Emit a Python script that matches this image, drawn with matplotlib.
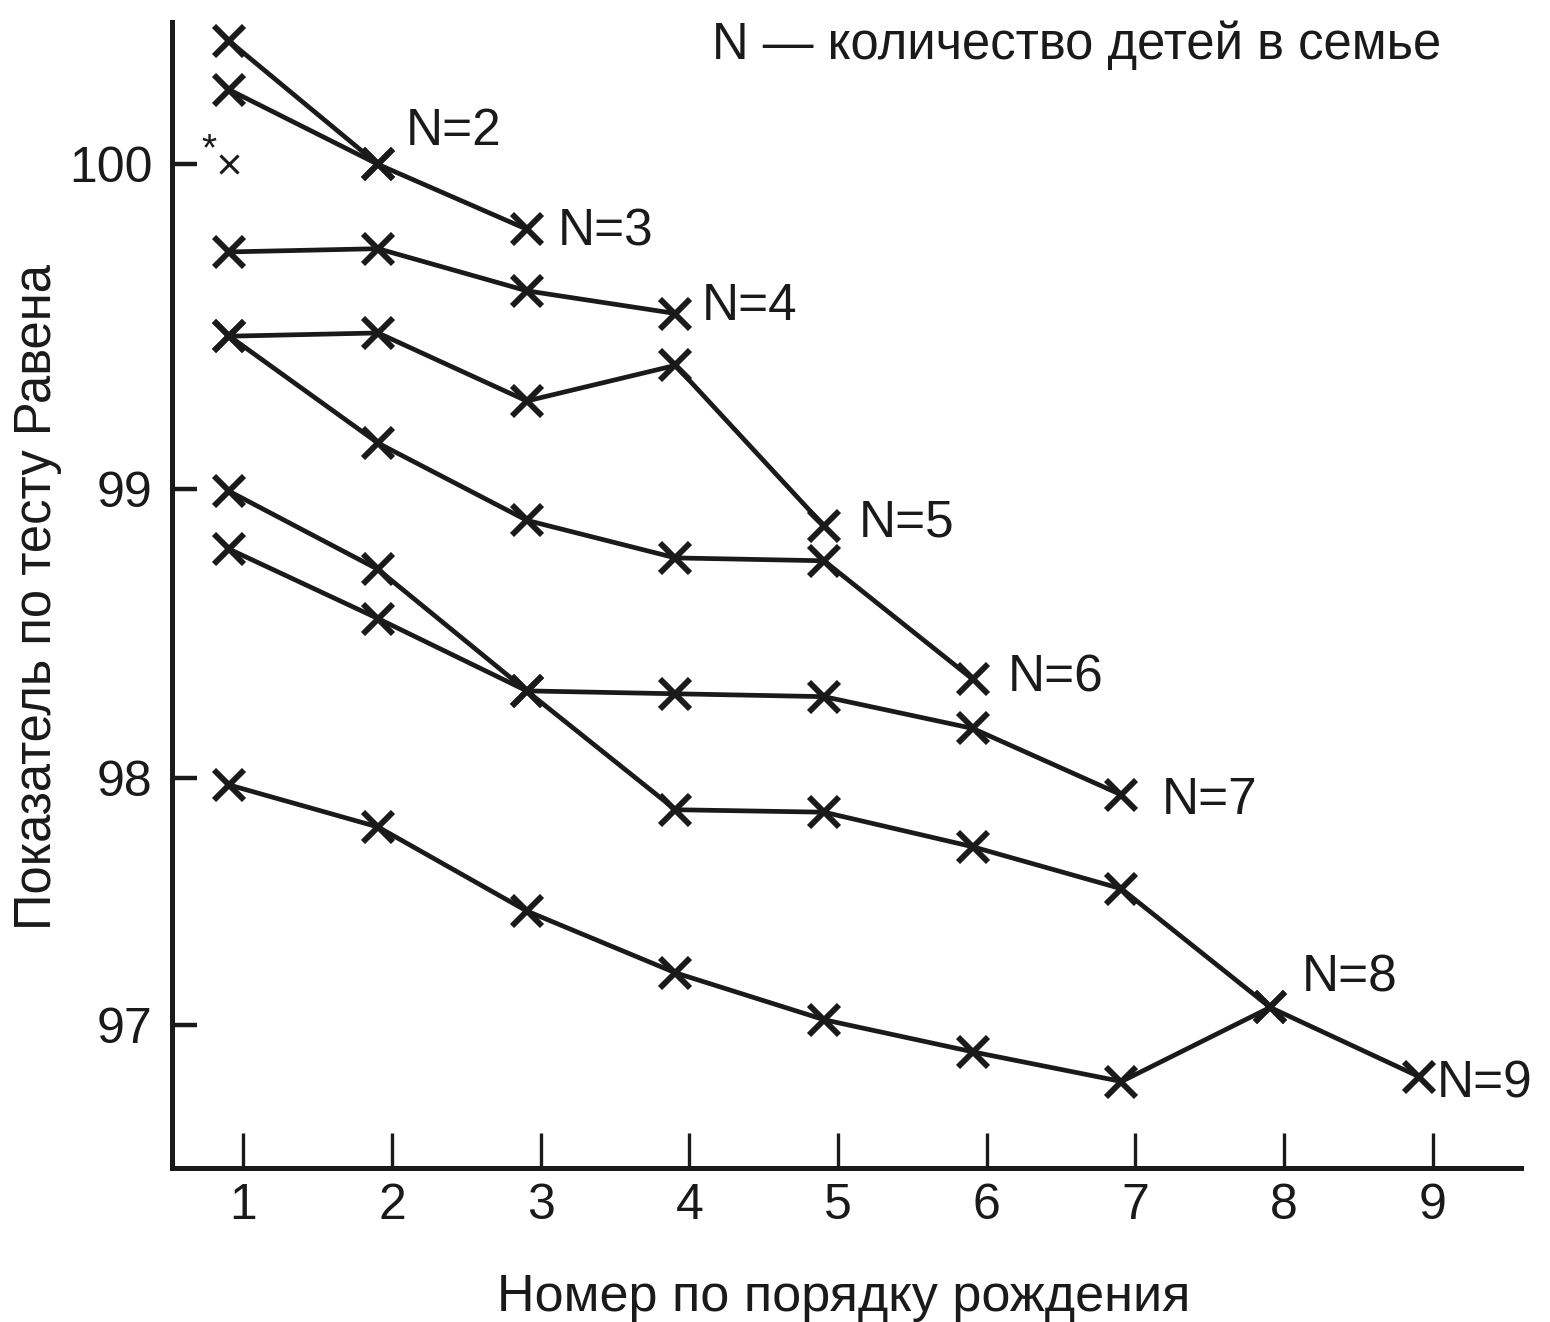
import numpy as np
import matplotlib
matplotlib.use("Agg")
import matplotlib.pyplot as plt
from matplotlib.transforms import offset_copy

plt.rcParams['font.family'] = ['Liberation Sans', 'DejaVu Sans']

# Raven test score by birth order, one series per family size N
birth_order = [1, 2, 3, 4, 5, 6, 7, 8, 9]
family_sizes = [2, 3, 4, 5, 6, 7, 8, 9]
score_n2 = [100.38, 100.00]
score_n3 = [100.23, 100.00, 99.80]
score_n4 = [99.73, 99.74, 99.61, 99.54]
score_n5 = [99.47, 99.48, 99.27, 99.38, 98.87]
score_n6 = [99.47, 99.14, 98.89, 98.76, 98.75, 98.34]
score_n7 = [98.99, 98.72, 98.30, 98.29, 98.28, 98.17, 97.93]
score_n8 = [98.79, 98.55, 98.30, 97.87, 97.86, 97.72, 97.55, 97.07]
score_n9 = [97.97, 97.80, 97.46, 97.21, 97.02, 96.89, 96.77, 97.07, 96.79]
scores = [score_n2, score_n3, score_n4, score_n5, score_n6, score_n7, score_n8, score_n9]
mean_point = (1, 100.0)

y_ticks = [97, 98, 99, 100]
x_ticks = birth_order

# the printed y scale is uneven: gaps between the ticks 97-98-99-100
tick_gap = [0, 247, 536, 860]


def fwd(v):
    v = np.asarray(v, float)
    out = np.interp(v, y_ticks, tick_gap)
    out = np.where(v < 97, (v - 97) * 247, out)
    out = np.where(v > 100, 860 + (v - 100) * 324, out)
    return out


def inv(p):
    p = np.asarray(p, float)
    out = np.interp(p, tick_gap, y_ticks)
    out = np.where(p < 0, 97 + p / 247, out)
    out = np.where(p > 860, 100 + (p - 860) / 324, out)
    return out


ink = '#1a1a1a'
fig = plt.figure(figsize=(15.5, 13.22), dpi=100)
ax = fig.add_axes([0.111, 0.1165, 0.870, 0.867])
ax.set_yscale('function', functions=(fwd, inv))
ax.set_xlim(0.52, 9.59)
ax.set_ylim(96.42, 100.44)

# points sit slightly left of the tick marks in the original
shifted = offset_copy(ax.transData, fig=fig, x=-14, y=0, units='dots')

label_offsets = {2: (20, 24), 3: (22, -2), 4: (19, 5), 5: (25, 2),
                 6: (25, 1), 7: (29, -4), 8: (23, 21), 9: (13, -5)}

for n, ys in zip(family_sizes, scores):
    xs = birth_order[:len(ys)]
    ax.plot(xs, ys, color=ink, lw=3.4, marker='x', ms=21, mew=4.2,
            transform=shifted, solid_joinstyle='round')
    ax.annotate(f'N={n}', xy=(xs[-1], ys[-1]), xycoords=shifted,
                xytext=label_offsets[n], textcoords='offset points',
                ha='left', va='center', fontsize=37, color=ink)

ax.plot([mean_point[0]], [mean_point[1]], color=ink, marker='x', ms=13,
        mew=2.2, linestyle='none', transform=shifted)
ax.annotate('*', xy=mean_point, xycoords=shifted, xytext=(-15, 10),
            textcoords='offset points', ha='center', va='center',
            fontsize=28, color=ink)

for side in ['top', 'right']:
    ax.spines[side].set_visible(False)
for side in ['left', 'bottom']:
    ax.spines[side].set_linewidth(3.6)
    ax.spines[side].set_color(ink)

ax.set_yticks(y_ticks)
ax.set_yticklabels([str(v) for v in y_ticks])
ax.set_xticks(x_ticks)
ax.set_xticklabels([str(v) for v in x_ticks])
ax.yaxis.set_minor_locator(matplotlib.ticker.NullLocator())
ax.tick_params(axis='y', direction='in', length=18, width=3.2, pad=14,
               labelsize=36, colors=ink)
ax.tick_params(axis='x', direction='in', length=25, width=2.4, pad=11,
               labelsize=36, colors=ink)

fig.text(712 / 1550, 1 - 45 / 1322, 'N — количество детей в семье',
         ha='left', va='center', fontsize=36.5, color=ink)
fig.text(38 / 1550, 1 - 597 / 1322, 'Показатель по тесту Равена',
         rotation=90, ha='center', va='center', fontsize=36.5, color=ink)
fig.text(844 / 1550, 1 - 1297 / 1322, 'Номер по порядку рождения',
         ha='center', va='center', fontsize=37.5, color=ink)

fig.savefig('out.png', dpi=100, facecolor='white')
